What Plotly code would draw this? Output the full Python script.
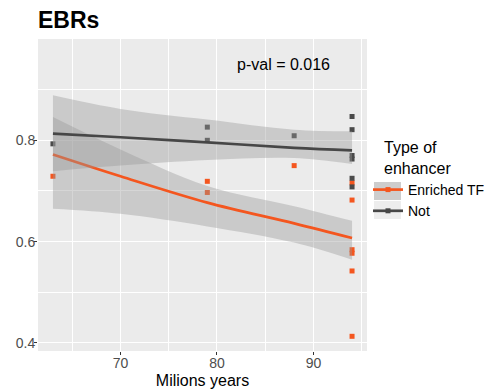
import plotly.graph_objects as go

# ---- data ----
years_enriched = [63, 79, 79, 88, 94, 94, 94, 94, 94, 94]
frac_enriched = [0.729, 0.719, 0.697, 0.750, 0.716, 0.682, 0.584, 0.577, 0.542, 0.413]
years_not = [63, 79, 79, 88, 94, 94, 94, 94, 94, 94]
frac_not = [0.793, 0.826, 0.800, 0.809, 0.847, 0.821, 0.770, 0.763, 0.725, 0.708]

fit_years = [63, 70, 79, 88, 94]
fit_enriched = [0.772, 0.729, 0.677, 0.636, 0.607]
lo_enriched = [0.665, 0.655, 0.630, 0.598, 0.564]
hi_enriched = [0.846, 0.782, 0.710, 0.670, 0.641]
fit_not = [0.813, 0.806, 0.796, 0.785, 0.780]
lo_not = [0.739, 0.750, 0.761, 0.765, 0.753]
hi_not = [0.889, 0.862, 0.841, 0.821, 0.818]

group_names = ["Enriched TF", "Not"]
x_ticks = [70, 80, 90]
y_ticks = [0.4, 0.6, 0.8]
p_text = "p-val = 0.016"
legend_title = "Type of<br>enhancer"

ORANGE = "#F4561F"
DARK = "#474747"
RIBBON = "rgba(153,153,153,0.4)"
FONT = "Liberation Sans, Arial, sans-serif"

# the page body has an 8px margin, so the layout is placed 8px up/left
W, H = 493, 392
L, T, R, B = 30, 31, 134, 49
PW, PH = W - L - R, H - T - B

def px_x(sx):  # screen x -> paper x
    return (sx - 8 - L) / PW

def px_y(sy):  # screen y -> paper y
    return (H - B - (sy - 8)) / PH

fig = go.Figure()

# points (bottom layer)
fig.add_trace(go.Scatter(x=years_enriched, y=frac_enriched, mode="markers",
                         marker=dict(symbol="square", size=5, color=ORANGE),
                         showlegend=False, hoverinfo="skip"))
fig.add_trace(go.Scatter(x=years_not, y=frac_not, mode="markers",
                         marker=dict(symbol="square", size=5, color="#4A4A4A"),
                         showlegend=False, hoverinfo="skip"))

def smooth(lo, hi, fit, color):
    fig.add_trace(go.Scatter(x=fit_years, y=lo, mode="lines",
                             line=dict(width=0, shape="spline"),
                             showlegend=False, hoverinfo="skip"))
    fig.add_trace(go.Scatter(x=fit_years, y=hi, mode="lines", fill="tonexty",
                             fillcolor=RIBBON, line=dict(width=0, shape="spline"),
                             showlegend=False, hoverinfo="skip"))
    fig.add_trace(go.Scatter(x=fit_years, y=fit, mode="lines",
                             line=dict(color=color, width=2.7, shape="spline"),
                             showlegend=False, hoverinfo="skip"))

smooth(lo_enriched, hi_enriched, fit_enriched, ORANGE)
smooth(lo_not, hi_not, fit_not, DARK)

# legend entries
for name, col in zip(group_names, [ORANGE, DARK]):
    fig.add_trace(go.Scatter(x=[None], y=[None], mode="lines+markers", name=name,
                             line=dict(color=col, width=2.7),
                             marker=dict(symbol="square", size=5, color=col)))

fig.add_annotation(x=86.9, y=0.95, xref="x", yref="y", text=p_text, showarrow=False,
                   font=dict(size=16, color="black", family=FONT))
fig.add_annotation(x=px_x(382), y=px_y(137), xref="paper", yref="paper",
                   xanchor="left", yanchor="top", align="left", showarrow=False,
                   text=legend_title, font=dict(size=16, color="black", family=FONT))

# legend key backgrounds (ggplot-style key boxes)
for (y0, y1, col) in [(182, 200, "#CDCDCD"), (201, 219, "#EDEDED")]:
    fig.add_shape(type="rect", xref="paper", yref="paper",
                  x0=px_x(374), x1=px_x(401), y0=px_y(y1), y1=px_y(y0),
                  fillcolor=col, line=dict(width=0), layer="below")

axis_common = dict(showline=False, zeroline=False, gridcolor="white", gridwidth=1.1,
                   ticks="outside", ticklen=3, tickwidth=1, tickcolor="#333333",
                   automargin=False,
                   tickfont=dict(size=14, color="#4D4D4D", family=FONT))

fig.update_layout(
    width=W, height=H,
    margin=dict(l=L, r=R, t=T, b=B, autoexpand=False),
    paper_bgcolor="white", plot_bgcolor="#EBEBEB",
    font=dict(family=FONT, color="black"),
    title=dict(text="<b>EBRs</b>", x=(38 - 8) / W, xanchor="left", xref="container",
               y=1 - (19.5 - 8) / H, yanchor="middle", yref="container",
               font=dict(size=23, color="black", family=FONT)),
    xaxis=dict(range=[61.45, 95.55], tickvals=x_ticks, ticklabelstandoff=-4,
               minor=dict(dtick=5, tick0=65, showgrid=True, gridcolor="white", gridwidth=0.5, ticks=""),
               title=dict(text="Milions years", font=dict(size=16, color="black", family=FONT), standoff=5),
               **axis_common),
    yaxis=dict(range=[0.384, 1.0], tickvals=y_ticks, tickformat=".1f", ticklabelstandoff=-4,
               minor=dict(dtick=0.1, tick0=0.5, showgrid=True, gridcolor="white", gridwidth=0.5, ticks=""),
               **axis_common),
    legend=dict(x=px_x(368), xanchor="left", y=px_y(174), yanchor="top", traceorder="normal",
                font=dict(size=14, color="black", family=FONT),
                bgcolor="rgba(0,0,0,0)", tracegroupgap=0, itemwidth=30),
)

fig.write_html("out.html")
